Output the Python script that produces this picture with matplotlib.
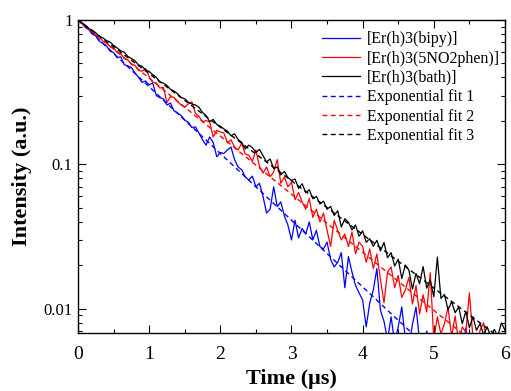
import numpy as np
import matplotlib
matplotlib.use("Agg")
import matplotlib.pyplot as plt
from matplotlib.ticker import LogLocator, NullFormatter, MultipleLocator, FixedLocator, FixedFormatter

plt.rcParams['font.family'] = ['Liberation Serif', 'DejaVu Serif']
plt.rcParams['mathtext.fontset'] = 'stix'

# time axis, 0.05 us steps
t = np.arange(121) * 0.05

bipy = [1.0, 0.952, 0.893, 0.861, 0.799, 0.776, 0.712, 0.690, 0.662, 0.609,
        0.596, 0.548, 0.557, 0.490, 0.482, 0.470, 0.431, 0.402, 0.370, 0.378,
        0.356, 0.366, 0.300, 0.290, 0.284, 0.258, 0.266, 0.235, 0.227, 0.218,
        0.203, 0.196, 0.180, 0.182, 0.165, 0.148, 0.136, 0.155, 0.142, 0.113,
        0.121, 0.119, 0.126, 0.132, 0.108, 0.096, 0.092, 0.082, 0.078, 0.083,
        0.070, 0.074, 0.060, 0.046, 0.049, 0.070, 0.051, 0.055, 0.044, 0.038,
        0.030, 0.041, 0.031, 0.036, 0.033, 0.040, 0.030, 0.035, 0.027, 0.026,
        0.029, 0.022, 0.0195, 0.021, 0.0245, 0.014, 0.023, 0.018, 0.0145, 0.0129,
        0.0115, 0.0075, 0.0110, 0.0135, 0.0190, 0.0098, 0.0082, 0.0061, 0.0088, 0.0058,
        0.0075, 0.0103, 0.0062, 0.0055, 0.0078, 0.0103, 0.0060, 0.0052, 0.0070, 0.0058,
        0.0045, 0.0062, 0.0050, 0.0066, 0.0048, 0.0055, 0.0044, 0.0058, 0.0045, 0.0074,
        0.0048]

no2phen = [1.0, 0.948, 0.915, 0.862, 0.838, 0.786, 0.765, 0.712, 0.698, 0.652,
           0.641, 0.596, 0.585, 0.541, 0.530, 0.492, 0.486, 0.448, 0.442, 0.462,
           0.405, 0.371, 0.366, 0.338, 0.342, 0.268, 0.295, 0.291, 0.272, 0.258,
           0.249, 0.262, 0.271, 0.226, 0.215, 0.198, 0.201, 0.197, 0.155, 0.172,
           0.168, 0.165, 0.141, 0.148, 0.132, 0.126, 0.140, 0.118, 0.116, 0.105,
           0.126, 0.097, 0.087, 0.096, 0.082, 0.089, 0.108, 0.074, 0.082, 0.070,
           0.075, 0.057, 0.064, 0.055, 0.049, 0.058, 0.043, 0.049, 0.040, 0.046,
           0.035, 0.027, 0.041, 0.035, 0.030, 0.033, 0.027, 0.034, 0.024, 0.029,
           0.027, 0.021, 0.026, 0.019, 0.024, 0.016, 0.011, 0.018, 0.0195, 0.014,
           0.017, 0.012, 0.0135, 0.0165, 0.0108, 0.0145, 0.0092, 0.0125, 0.0095, 0.0178,
           0.0061, 0.0088, 0.0067, 0.0079, 0.0103, 0.0064, 0.0089, 0.0058, 0.0075, 0.0069,
           0.0129, 0.0063, 0.0052, 0.0071, 0.0080, 0.0056, 0.0062, 0.0048, 0.0055, 0.0045,
           0.0050]

bath = [1.0, 0.962, 0.925, 0.872, 0.851, 0.815, 0.768, 0.752, 0.721, 0.705,
        0.668, 0.641, 0.612, 0.598, 0.560, 0.541, 0.522, 0.489, 0.478, 0.452,
        0.440, 0.418, 0.401, 0.372, 0.366, 0.352, 0.331, 0.322, 0.308, 0.291,
        0.285, 0.270, 0.262, 0.258, 0.249, 0.229, 0.218, 0.198, 0.205, 0.189,
        0.184, 0.176, 0.170, 0.158, 0.163, 0.149, 0.142, 0.128, 0.136, 0.131,
        0.121, 0.127, 0.115, 0.104, 0.109, 0.0935, 0.0962, 0.0846, 0.0893, 0.0811,
        0.0775, 0.0792, 0.0682, 0.0735, 0.0637, 0.0668, 0.0579, 0.0601, 0.0532, 0.0556,
        0.0489, 0.0512, 0.0443, 0.0478, 0.0369, 0.0421, 0.0398, 0.0352, 0.0381, 0.0318,
        0.0347, 0.0289, 0.0306, 0.0271, 0.0298, 0.0252, 0.0288, 0.0226, 0.0245, 0.0198,
        0.0221, 0.0162, 0.0201, 0.0185, 0.0137, 0.0176, 0.0149, 0.0196, 0.0139, 0.0158,
        0.0121, 0.0228, 0.0118, 0.0126, 0.0098, 0.0112, 0.0094, 0.0103, 0.0079, 0.0096,
        0.0074, 0.0088, 0.0071, 0.0079, 0.0066, 0.0075, 0.0064, 0.0072, 0.0065, 0.0080,
        0.0071]

# single exponential fits: straight lines on the log axis, start/end values
fit_t = [0.0, 6.0]
fit1 = [1.0, 0.00169]
fit2 = [1.0, 0.00387]
fit3 = [1.0, 0.00593]

labels = ['[Er(h)3(bipy)]', '[Er(h)3(5NO2phen)]', '[Er(h)3(bath)]',
          'Exponential fit 1', 'Exponential fit 2', 'Exponential fit 3']

fig = plt.figure(figsize=(5.11, 3.91), dpi=100)
ax = fig.add_axes([0.1526, 0.1483, 0.8356, 0.8005])

ax.plot(t[:len(bipy)], bipy, color='#0000ff', lw=0.9, label=labels[0])
ax.plot(t, no2phen, color='#ff0000', lw=0.9, label=labels[1])
ax.plot(t, bath, color='black', lw=0.9, label=labels[2])
ax.plot(fit_t, fit1, color='#0000ff', lw=1.0, ls=(0, (3.5, 2.5)), label=labels[3])
ax.plot(fit_t, fit2, color='#ff0000', lw=1.0, ls=(0, (3.5, 2.5)), label=labels[4])
ax.plot(fit_t, fit3, color='black', lw=1.0, ls=(0, (3.5, 2.5)), label=labels[5])

ax.set_yscale('log')
ax.set_xlim(0, 6)
ax.set_ylim(0.0068, 1)
ax.xaxis.set_major_locator(MultipleLocator(1))
ax.xaxis.set_minor_locator(MultipleLocator(0.5))
ax.yaxis.set_major_locator(FixedLocator([0.01, 0.1, 1]))
ax.yaxis.set_major_formatter(FixedFormatter(['0.01', '0.1', '1']))
ax.yaxis.set_minor_locator(LogLocator(base=10, subs=np.arange(2, 10)))
ax.yaxis.set_minor_formatter(NullFormatter())

ax.tick_params(which='both', direction='in', top=True, right=True, width=0.8)
ax.tick_params(which='major', length=6)
ax.tick_params(which='minor', length=3)
ax.tick_params(axis='x', labelsize=14, pad=9)
ax.tick_params(axis='y', labelsize=12, pad=4)
for s in ax.spines.values():
    s.set_linewidth(1.0)

ax.set_xlabel('Time (μs)', fontsize=16, fontweight='bold', labelpad=5)
ax.set_ylabel('Intensity (a.u.)', fontsize=16, fontweight='bold', labelpad=8)

ax.legend(loc='upper right', bbox_to_anchor=(1.01, 0.995), frameon=False,
          fontsize=11.5, handlelength=2.4, handletextpad=0.4, labelspacing=0.21,
          borderaxespad=0.2)

fig.savefig('out.png', dpi=100)
